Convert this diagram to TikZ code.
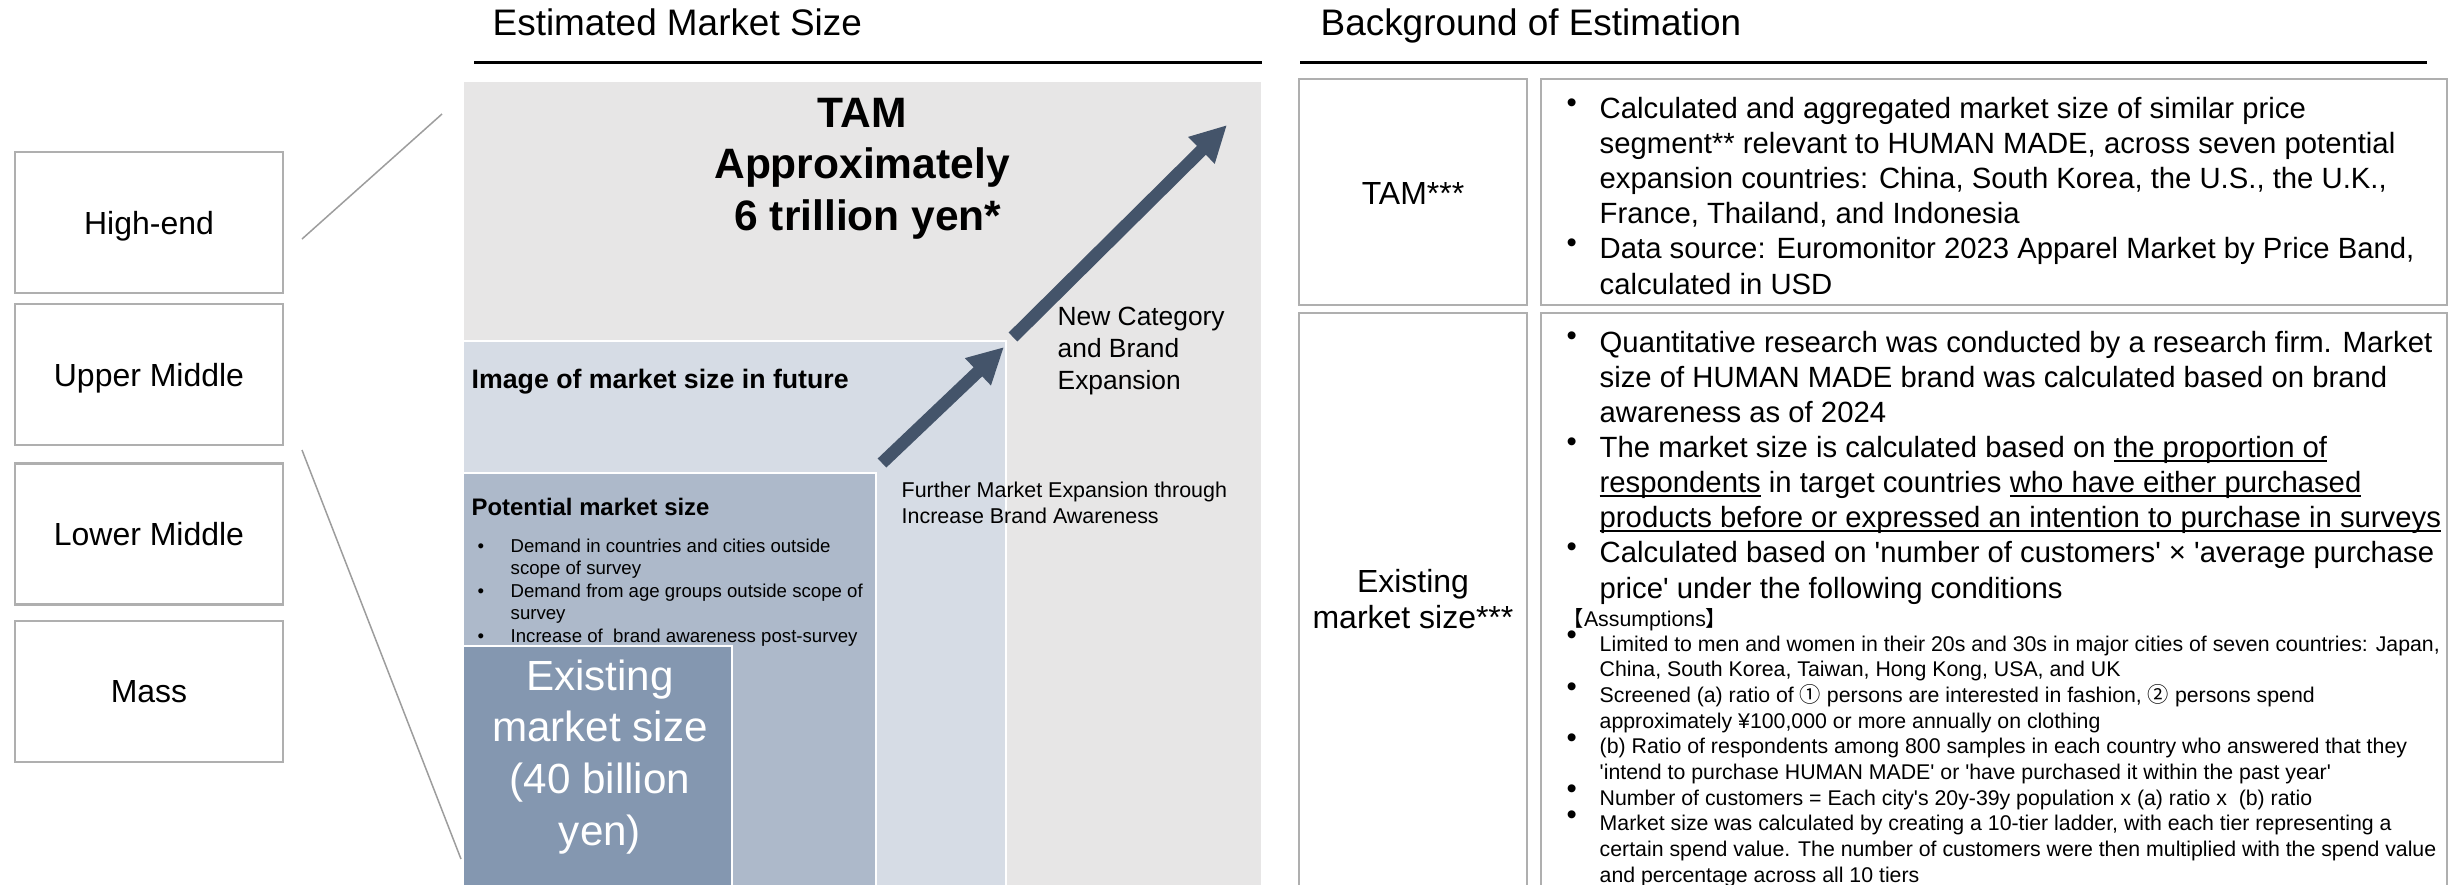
\documentclass[tikz,border=0pt]{standalone}
\usepackage{fontspec}
\setmainfont{Liberation Sans}
\newfontfamily\cjk{Noto Sans CJK JP}
\usetikzlibrary{arrows.meta}

\definecolor{lysgraa}{HTML}{E7E6E6}
\definecolor{lysblaa}{HTML}{D6DCE5}
\definecolor{midblaa}{HTML}{ADB9CA}
\definecolor{moerkblaa}{HTML}{8497B0}
\definecolor{skifer}{HTML}{44546A}
\definecolor{kant}{HTML}{AFAFAF}

\newcommand\fs[2]{\fontsize{#1}{#2}\selectfont}
\newcommand\pkt{\makebox[3.3mm][l]{\smash{\fs{8.33pt}{10pt}\raisebox{0.62mm}{\textbullet}}}}
\newcommand\smpkt{\makebox[3.3mm][l]{\textbullet}}
\newcommand\inn{\hspace*{3.3mm}}
\newcommand\sq{\textquotesingle}
\newlength\strekbredde
\newcommand\strek[1]{\settowidth\strekbredde{#1}\rlap{\rule[-0.45mm]{\strekbredde}{0.2mm}}#1}

\tikzset{
  overskrift/.style={anchor=base west, font=\fs{10.5pt}{12pt}},
  etikett/.style={draw=kant, line width=0.25mm, fill=white, minimum width=26.8mm,
    minimum height=14.1mm, text depth=0pt, font=\fs{9.1pt}{10.2pt}},
  zoomlinje/.style={draw=kant!90!black, line width=0.15mm},
  felt/.style={fill=#1, draw=white, line width=0.25mm},
  rute/.style={draw=kant, line width=0.25mm},
  liste/.style={anchor=base west, align=left},
  pil/.style={draw=skifer, line width=1.25mm, -{Triangle[length=3.6mm, width=3.5mm]}},
}

\begin{document}
\begin{tikzpicture}[x=0.1mm, y=-0.1mm, inner sep=0pt]
	\useasboundingbox (0,0) rectangle (2450,884);
	\clip (0,0) rectangle (2450,884);

	% Overskrifter
	\node[overskrift] (tittelv) at (492,35) {Estimated Market Size};
	\node[overskrift] (tittelh) at (1320,35) {Background of Estimation};
	\draw[line width=0.3mm] (474,62) -- (1262,62);
	\draw[line width=0.3mm] (1300,62) -- (2427,62);

	% Segmentbokser
	\node[etikett] (highend) at (149,222.5) {High-end};
	\node[etikett] (uppermid) at (149,374.5) {Upper Middle};
	\node[etikett] (lowermid) at (149,534) {Lower Middle};
	\node[etikett] (mass) at (149,691.5) {Mass};

	% Zoomlinjer
	\coordinate (zoomA1) at (302,239);
	\coordinate (zoomA2) at (442,114);
	\coordinate (zoomB1) at (302,450);
	\coordinate (zoomB2) at (461,859);
	\draw[zoomlinje] (zoomA1) -- (zoomA2);
	\draw[zoomlinje] (zoomB1) -- (zoomB2);

	% Markedsflater
	\draw[felt=lysgraa] (463,81) rectangle (1262,890);
	\draw[felt=lysblaa] (463,341) rectangle (1006,890);
	\draw[felt=midblaa] (463,473) rectangle (876,890);
	\draw[felt=moerkblaa] (463,646) rectangle (732,890);

	% TAM (base = siste linje)
	\node[anchor=base, align=center, font=\bfseries\fs{12.1pt}{14.6pt}] (tam) at (862,230)
		{TAM\\Approximately\\\hspace*{1.2mm}6 trillion yen*};

	% Fremtidig og potensiell markedsstørrelse
	\node[anchor=base west, font=\bfseries\fs{7.6pt}{9pt}] (fremtid) at (471,388) {Image of market size in future};
	\node[anchor=base west, font=\bfseries\fs{6.8pt}{8pt}] (potensial) at (471,515) {Potential market size};
	\node[liste, font=\fs{5.3pt}{6.4pt}] (potliste) at (477,642)
		{\smpkt Demand in countries and cities outside\\\inn scope of survey\\\smpkt Demand from age groups outside scope of\\\inn survey\\\smpkt Increase of\ \ brand awareness post-survey};

	% Eksisterende marked
	\node[anchor=base, align=center, text=white, font=\fs{12pt}{14.7pt}] (eksist) at (600,845)
		{Existing\\market size\\(40 billion\\yen)};

	% Vekstpiler
	\coordinate (pilA1) at (882,463);
	\coordinate (pilA2) at (1004,347);
	\coordinate (pilB1) at (1013,337);
	\coordinate (pilB2) at (1227,125);
	\draw[pil] (pilA1) -- (pilA2);
	\draw[pil] (pilB1) -- (pilB2);
	\node[liste, font=\fs{6.1pt}{7.4pt}] (videre) at (901,523) {Further Market Expansion through\\Increase Brand Awareness};
	\node[liste, font=\fs{7.5pt}{9.1pt}] (nykat) at (1057,389) {New Category\\and Brand\\Expansion};

	% Bakgrunn for estimat
	\draw[rute] (1299,79) rectangle (1527,305);
	\draw[rute] (1541,79) rectangle (2447,305);
	\draw[rute] (1299,313) rectangle (1527,900);
	\draw[rute] (1541,313) rectangle (2447,900);
	\node[font=\fs{9.1pt}{10.2pt}] (tamlabel) at (1413,193) {TAM***};
	\node[anchor=base, align=center, font=\fs{9.1pt}{10pt}] (eksistlabel) at (1413,628) {Existing\\market size***};

	\node[liste, font=\fs{8.33pt}{10pt}] (tamliste) at (1566,294)
		{\pkt Calculated and aggregated market size of similar price\\
		\inn segment** relevant to HUMAN MADE, across seven potential\\
		\inn expansion countries: China, South Korea, the U.S., the U.K.,\\
		\inn France, Thailand, and Indonesia\\
		\pkt Data source: Euromonitor 2023 Apparel Market by Price Band,\\
		\inn calculated in USD};

	\node[liste, font=\fs{8.33pt}{10pt}] (eksistliste) at (1566,598)
		{\pkt Quantitative research was conducted by a research firm. Market\\
		\inn size of HUMAN MADE brand was calculated based on brand\\
		\inn awareness as of 2024\\
		\pkt The market size is calculated based on \strek{the proportion of}\\
		\inn\strek{respondents} in target countries \strek{who have either purchased}\\
		\inn\strek{products before or expressed an intention to purchase in surveys}\\
		\pkt Calculated based on \sq number of customers\sq{} \texttimes{} \sq average purchase\\
		\inn price\sq{} under the following conditions};

	\node[liste, font=\fs{6.06pt}{7.3pt}] (antakelser) at (1562,626) {{\cjk 【}Assumptions{\cjk 】}};
	\node[liste, font=\fs{6.06pt}{7.3pt}] (antliste) at (1566,882)
		{\pkt Limited to men and women in their 20s and 30s in major cities of seven countries: Japan,\\
		\inn China, South Korea, Taiwan, Hong Kong, USA, and UK\\
		\pkt Screened (a) ratio of {\cjk ①} persons are interested in fashion, {\cjk ②} persons spend\\
		\inn approximately ¥100,000 or more annually on clothing\\
		\pkt (b) Ratio of respondents among 800 samples in each country who answered that they\\
		\inn\sq intend to purchase HUMAN MADE\sq{} or \sq have purchased it within the past year\sq\\
		\pkt Number of customers = Each city\sq s 20y-39y population x (a) ratio x\ \ (b) ratio\\
		\pkt Market size was calculated by creating a 10-tier ladder, with each tier representing a\\
		\inn certain spend value. The number of customers were then multiplied with the spend value\\
		\inn and percentage across all 10 tiers};
\end{tikzpicture}
\end{document}
